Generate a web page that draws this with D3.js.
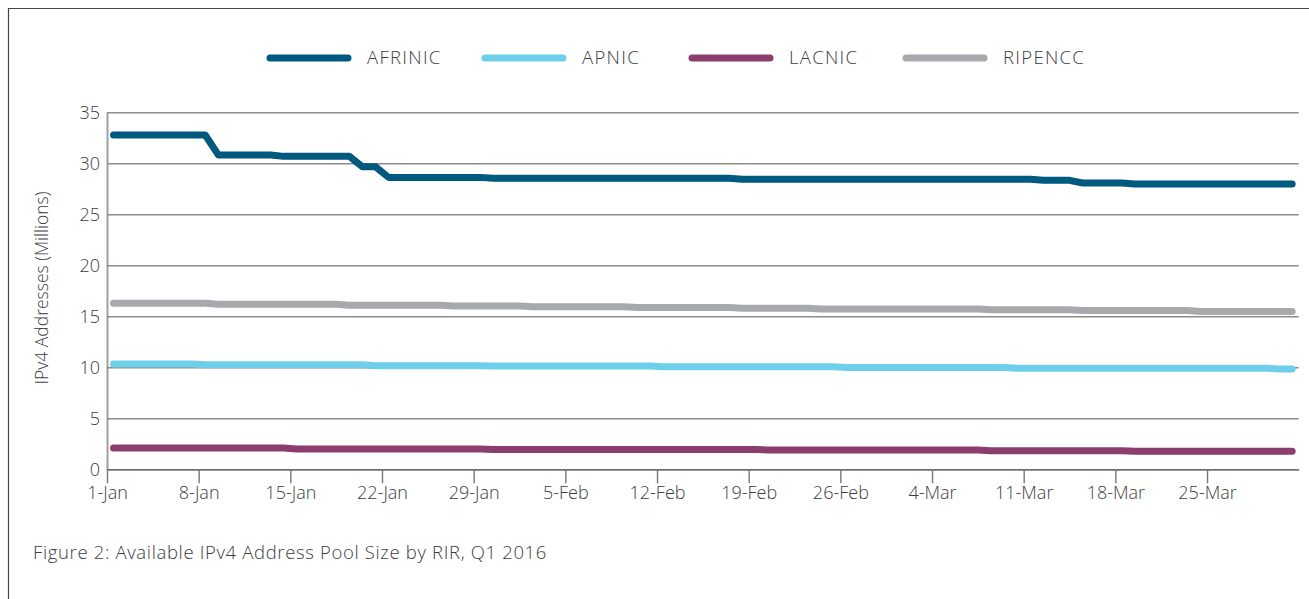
<!DOCTYPE html>
<html>
<head>
<meta charset="utf-8">
<script src="https://cdn.jsdelivr.net/npm/d3@7"></script>
<style>
  body { margin: 0; background: #fff; }
  svg text { font-family: "Open Sans", Lato, sans-serif; font-weight: 300; fill: #3c3d3f; }
</style>
</head>
<body>
<svg id="chart" width="1309" height="599"></svg>
<script>
// -----------------------------------------------------------------------
//  Data, one value per day 1-Jan .. 31-Mar 2016
// -----------------------------------------------------------------------

let series_names = ["AFRINIC", "APNIC", "LACNIC", "RIPENCC"];

let afrinic = [
    32.77, 32.77, 32.77, 32.77, 32.77, 32.77, 32.77, 32.77, 30.82, 30.82,
    30.82, 30.82, 30.82, 30.68, 30.68, 30.68, 30.68, 30.68, 30.68, 29.67,
    29.67, 28.62, 28.62, 28.62, 28.62, 28.62, 28.62, 28.62, 28.62, 28.53,
    28.53, 28.53, 28.53, 28.53, 28.53, 28.53, 28.53, 28.53, 28.53, 28.53,
    28.53, 28.53, 28.53, 28.53, 28.53, 28.53, 28.53, 28.53, 28.43, 28.43,
    28.43, 28.43, 28.43, 28.43, 28.43, 28.43, 28.43, 28.43, 28.43, 28.43,
    28.43, 28.43, 28.43, 28.43, 28.43, 28.43, 28.43, 28.43, 28.43, 28.43,
    28.43, 28.33, 28.33, 28.33, 28.07, 28.07, 28.07, 28.07, 27.97, 27.97,
    27.97, 27.97, 27.97, 27.97, 27.97, 27.97, 27.97, 27.97, 27.97, 27.97,
    27.97
];

let apnic = [
    10.32, 10.32, 10.32, 10.32, 10.32, 10.32, 10.32, 10.26, 10.26, 10.26,
    10.26, 10.26, 10.26, 10.26, 10.26, 10.26, 10.26, 10.26, 10.26, 10.26,
    10.16, 10.16, 10.16, 10.16, 10.16, 10.16, 10.16, 10.16, 10.16, 10.12,
    10.12, 10.12, 10.12, 10.12, 10.12, 10.12, 10.12, 10.12, 10.12, 10.12,
    10.12, 10.12, 10.06, 10.06, 10.06, 10.06, 10.06, 10.06, 10.06, 10.06,
    10.06, 10.06, 10.06, 10.06, 10.06, 10.06, 9.97, 9.97, 9.97, 9.97,
    9.97, 9.97, 9.97, 9.97, 9.97, 9.97, 9.97, 9.97, 9.97, 9.91,
    9.91, 9.91, 9.91, 9.91, 9.91, 9.91, 9.91, 9.91, 9.91, 9.91,
    9.91, 9.91, 9.91, 9.91, 9.91, 9.91, 9.91, 9.91, 9.91, 9.83,
    9.83
];

let lacnic = [
    2.09, 2.09, 2.09, 2.09, 2.09, 2.09, 2.09, 2.09, 2.09, 2.09,
    2.09, 2.09, 2.09, 2.09, 2.00, 2.00, 2.00, 2.00, 2.00, 2.00,
    2.00, 2.00, 2.00, 2.00, 2.00, 2.00, 2.00, 2.00, 2.00, 1.95,
    1.95, 1.95, 1.95, 1.95, 1.95, 1.95, 1.95, 1.95, 1.95, 1.95,
    1.95, 1.95, 1.95, 1.95, 1.95, 1.95, 1.95, 1.95, 1.95, 1.95,
    1.89, 1.89, 1.89, 1.89, 1.89, 1.89, 1.89, 1.89, 1.89, 1.89,
    1.89, 1.89, 1.89, 1.89, 1.89, 1.89, 1.89, 1.83, 1.83, 1.83,
    1.83, 1.83, 1.83, 1.83, 1.83, 1.83, 1.83, 1.83, 1.76, 1.76,
    1.76, 1.76, 1.76, 1.76, 1.76, 1.76, 1.76, 1.76, 1.76, 1.76,
    1.76
];

let ripencc = [
    16.27, 16.27, 16.27, 16.27, 16.27, 16.27, 16.27, 16.27, 16.18, 16.18,
    16.18, 16.18, 16.18, 16.18, 16.18, 16.18, 16.18, 16.18, 16.08, 16.08,
    16.08, 16.08, 16.08, 16.08, 16.08, 16.08, 16.00, 16.00, 16.00, 16.00,
    16.00, 16.00, 15.94, 15.94, 15.94, 15.94, 15.94, 15.94, 15.94, 15.94,
    15.86, 15.86, 15.86, 15.86, 15.86, 15.86, 15.86, 15.86, 15.78, 15.78,
    15.78, 15.78, 15.78, 15.78, 15.72, 15.72, 15.72, 15.72, 15.72, 15.72,
    15.72, 15.72, 15.72, 15.72, 15.72, 15.72, 15.72, 15.65, 15.65, 15.65,
    15.65, 15.65, 15.65, 15.65, 15.56, 15.56, 15.56, 15.56, 15.56, 15.56,
    15.56, 15.56, 15.56, 15.48, 15.48, 15.48, 15.48, 15.48, 15.48, 15.48,
    15.48
];

let y_ticks = [0, 5, 10, 15, 20, 25, 30, 35];
let x_tick_labels = ["1-Jan", "8-Jan", "15-Jan", "22-Jan", "29-Jan", "5-Feb", "12-Feb",
                     "19-Feb", "26-Feb", "4-Mar", "11-Mar", "18-Mar", "25-Mar"];

let y_label = "IPv4 Addresses (Millions)";
let caption = "Figure 2: Available IPv4 Address Pool Size by RIR, Q1 2016";

// -----------------------------------------------------------------------
//  Layout
// -----------------------------------------------------------------------

let colors = ["#00597f", "#6ecfea", "#8b3d6e", "#a7a9ac"];
let plot = {left: 107, right: 1298.7, top: 112.3, bottom: 469.3};
let legend_x = [270, 485, 692, 906]; // where each legend swatch starts
let font_size = "17.5px";

let start = new Date(Date.UTC(2016, 0, 1));
let end = new Date(Date.UTC(2016, 3, 1));
let days = d3.utcDay.range(start, end); // one category per day of Q1
let tick_dates = d3.utcDay.range(start, end, 7).slice(0, x_tick_labels.length); // weekly from 1-Jan

let x_scale = d3.scaleUtc().domain([start, end]).range([plot.left, plot.right]);
let y_scale = d3.scaleLinear().domain([0, 35]).range([plot.bottom, plot.top]);

const svg = d3.select("#chart");

// frame around the figure (open on the right / bottom)
svg.append("path")
    .attr("d", "M8.5,599 V8.5 H1309")
    .attr("fill", "none")
    .attr("stroke", "#444")
    .attr("stroke-width", 1.2);

// y axis with gridlines
const y_axis = svg.append("g")
    .attr("transform", `translate(${plot.left},0)`)
    .call(d3.axisLeft(y_scale)
        .tickValues(y_ticks)
        .tickSize(-(plot.right - plot.left))
        .tickSizeOuter(0)
        .tickPadding(7));
y_axis.selectAll(".tick line").attr("stroke", "#8c8c8c").attr("stroke-width", 1.4);
y_axis.select(".domain").attr("stroke", "#a0a0a0").attr("stroke-width", 2);
y_axis.selectAll("text").style("font-size", "18px").attr("fill", null);

// x axis
const x_axis = svg.append("g")
    .attr("transform", `translate(0,${plot.bottom})`)
    .call(d3.axisBottom(x_scale)
        .tickValues(tick_dates)
        .tickFormat((d, i) => x_tick_labels[i])
        .tickSize(14)
        .tickSizeOuter(0)
        .tickPadding(3));
x_axis.select(".domain").attr("stroke", "#6d6d6d").attr("stroke-width", 1.4);
x_axis.selectAll(".tick line").attr("stroke", "#777").attr("stroke-width", 1.4);
x_axis.selectAll("text").style("font-size", "18px").attr("fill", null);

// y axis title
svg.append("text")
    .attr("transform", `translate(48,288) rotate(-90)`)
    .attr("text-anchor", "middle")
    .style("font-size", font_size)
    .text(y_label);

// lines (each point sits in the middle of its day)
let all_values = [afrinic, apnic, lacnic, ripencc];
const line = d3.line()
    .x((d, i) => x_scale(d3.utcHour.offset(days[i], 12)))
    .y(d => y_scale(d));

svg.selectAll(".series")
    .data(all_values)
    .join("path")
    .attr("class", "series")
    .attr("d", d => line(d))
    .attr("fill", "none")
    .attr("stroke", (d, i) => colors[i])
    .attr("stroke-width", 7)
    .attr("stroke-linecap", "round")
    .attr("stroke-linejoin", "round");

// legend
const legend = svg.selectAll(".legend")
    .data(series_names)
    .join("g")
    .attr("class", "legend")
    .attr("transform", (d, i) => `translate(${legend_x[i]},58)`);

legend.append("line")
    .attr("x1", 0).attr("x2", 78)
    .attr("stroke", (d, i) => colors[i])
    .attr("stroke-width", 7)
    .attr("stroke-linecap", "round");

legend.append("text")
    .attr("x", 97)
    .attr("dy", "0.35em")
    .style("font-size", "18.5px")
    .style("letter-spacing", "1.3px")
    .text(d => d);

// caption
svg.append("text")
    .attr("x", 33)
    .attr("y", 559)
    .style("font-size", "18.5px")
    .style("letter-spacing", "0.65px")
    .text(caption);
</script>
</body>
</html>
